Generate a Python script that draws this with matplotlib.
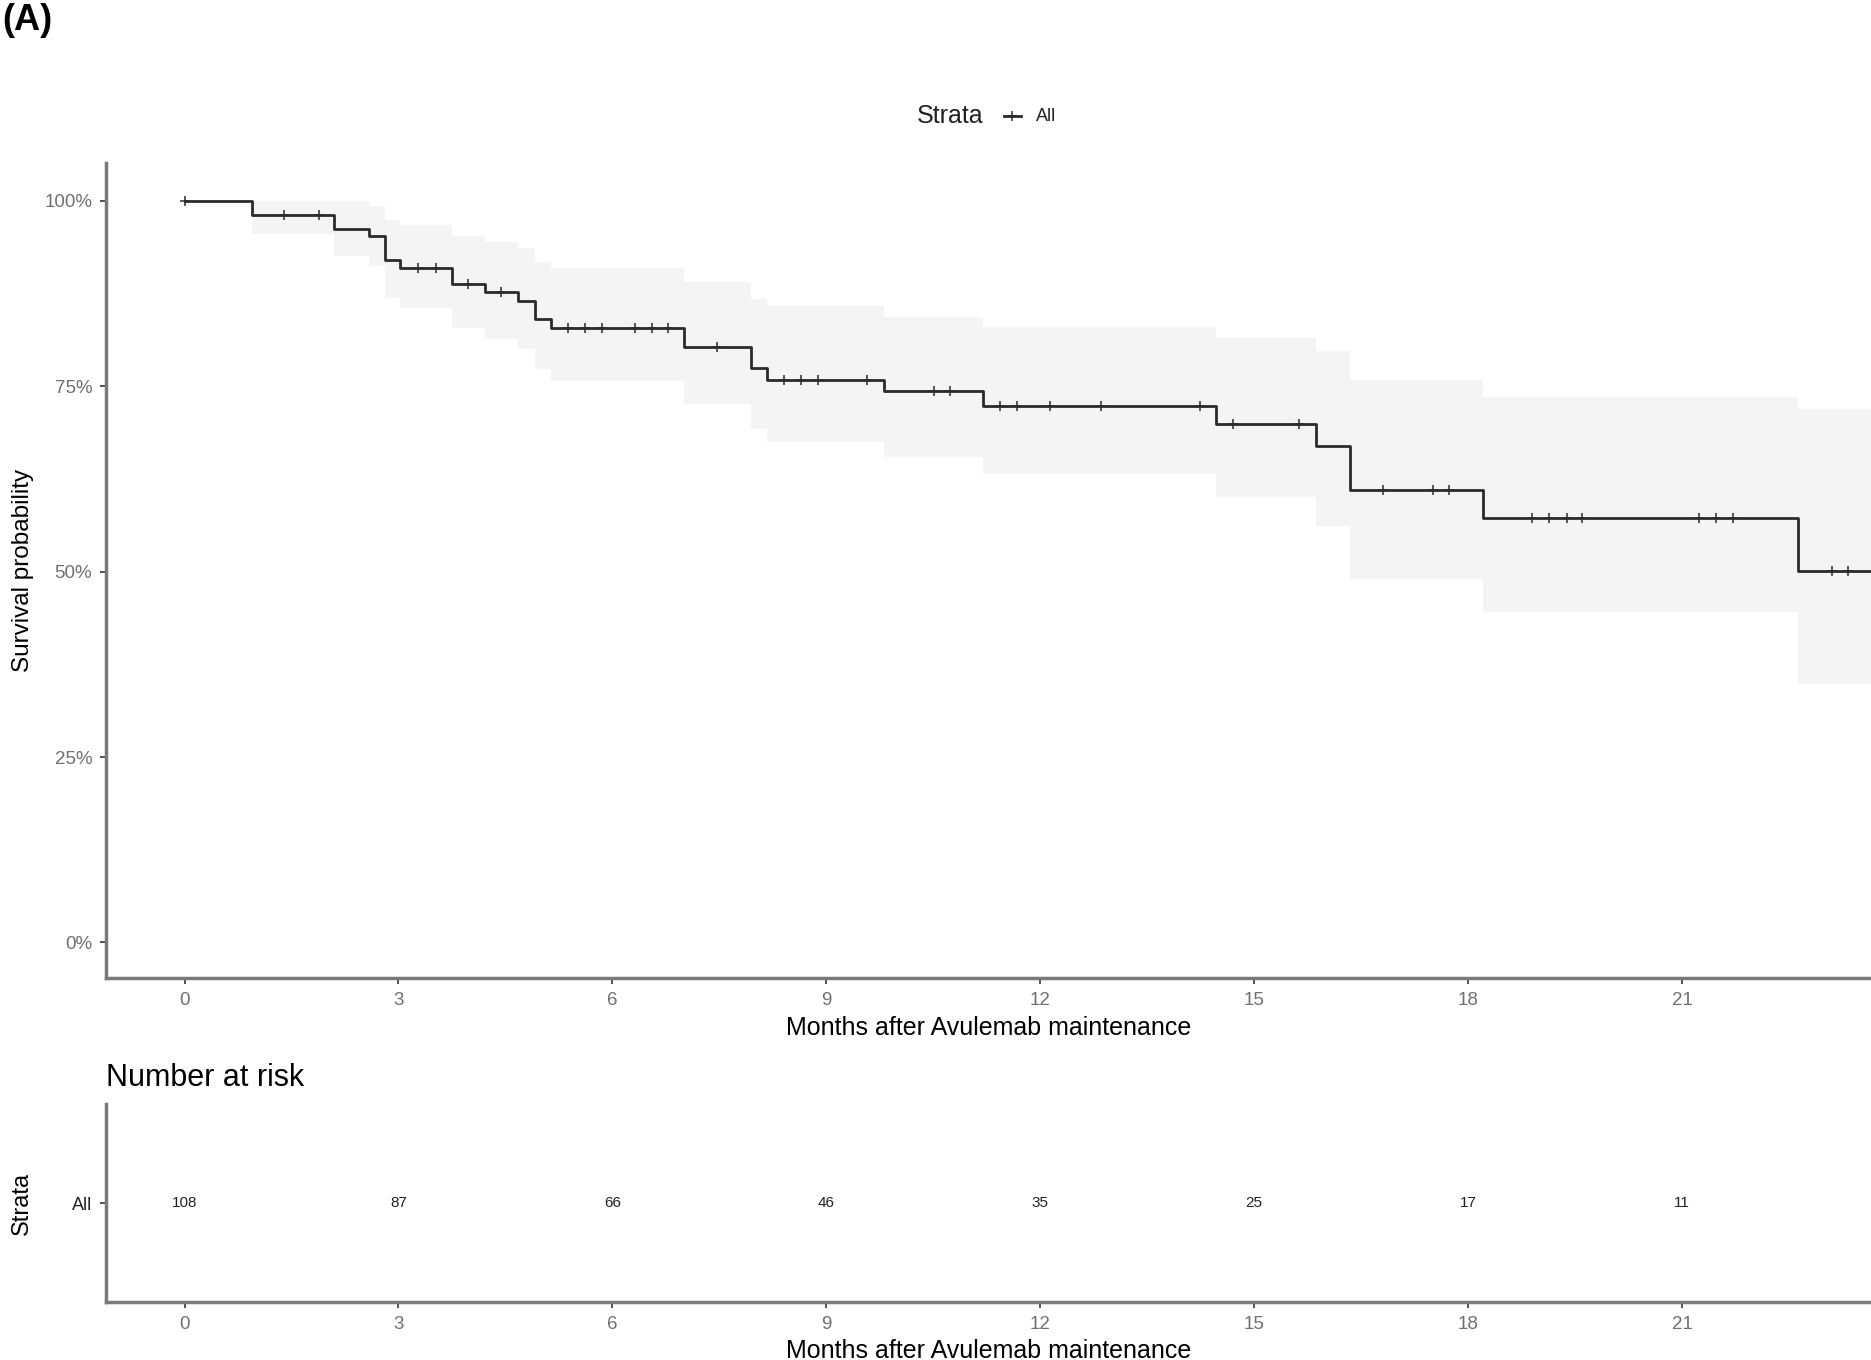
import numpy as np
import matplotlib.pyplot as plt
from matplotlib.lines import Line2D

plt.rcParams['font.family'] = ['Liberation Sans', 'DejaVu Sans']

# Kaplan-Meier steps (months, survival %)
step_times = [0, 0.95, 2.10, 2.58, 2.81, 3.02, 3.75, 4.21, 4.68, 4.91, 5.14,
              7.00, 7.95, 8.17, 9.81, 11.2, 14.47, 15.87, 16.34, 18.21, 22.63]
surv = [100, 98.1, 96.2, 95.3, 92.0, 90.9, 88.8, 87.7, 86.5, 84.1, 82.9,
        80.3, 77.5, 75.9, 74.3, 72.4, 69.95, 66.9, 61.05, 57.3, 50.1]
upper = [100, 100, 100, 99.3, 97.4, 96.7, 95.3, 94.4, 93.6, 91.8, 91.0,
         89.0, 86.8, 85.8, 84.4, 83.0, 81.5, 79.7, 75.8, 73.5, 72.0]
lower = [100, 95.5, 92.6, 91.2, 86.9, 85.5, 82.8, 81.4, 80.0, 77.3, 75.7,
         72.6, 69.3, 67.5, 65.4, 63.1, 60.1, 56.2, 49.0, 44.6, 34.9]
censor_times = [0, 1.39, 1.88, 3.27, 3.52, 3.97, 4.44, 5.38, 5.61, 5.85, 6.32,
                6.55, 6.78, 7.47, 8.41, 8.65, 8.88, 9.57, 10.51, 10.73, 11.43,
                11.67, 12.14, 12.85, 14.24, 14.7, 15.63, 16.8, 17.51, 17.73,
                18.9, 19.14, 19.38, 19.6, 21.24, 21.47, 21.71, 23.1, 23.33]
end_time = 23.7

risk_times = [0, 3, 6, 9, 12, 15, 18, 21]
n_at_risk = [108, 87, 66, 46, 35, 25, 17, 11]
y_ticks = [0, 25, 50, 75, 100]

line_col = '#2b2b2b'
spine_col = '#7a7a7a'
tick_col = '#707070'

fig = plt.figure(figsize=(18.71, 13.6), dpi=100)

ax = fig.add_axes([0.0567, 0.2809, 0.9433, 0.5992])
t = step_times + [end_time]
ax.fill_between(t, lower + [lower[-1]], upper + [upper[-1]], step='post',
                color='#f4f4f4', lw=0)
ax.step(t, surv + [surv[-1]], where='post', color=line_col, lw=2.0)
idx = np.searchsorted(step_times, censor_times, side='right') - 1
ax.plot(censor_times, np.array(surv)[idx], ls='none', marker='+', ms=6.5,
        mew=1.1, color=line_col)

ax.set_xlim(-1.1, 23.65)
ax.set_ylim(-4.8, 105.1)
ax.set_xticks(risk_times)
ax.set_yticks(y_ticks)
ax.set_yticklabels([f'{v}%' for v in y_ticks])
ax.set_xlabel('Months after Avulemab maintenance', fontsize=18, labelpad=5)
ax.set_ylabel('Survival probability', fontsize=17.5, labelpad=7)

ax2 = fig.add_axes([0.0567, 0.0426, 0.9433, 0.1456])
for x, n in zip(risk_times, n_at_risk):
    ax2.text(x, 1, str(n), ha='center', va='center', fontsize=11, color='#222222')
ax2.set_xlim(-1.1, 23.65)
ax2.set_ylim(0.5, 1.5)
ax2.set_xticks(risk_times)
ax2.set_yticks([1])
ax2.set_yticklabels(['All'])
ax2.set_xlabel('Months after Avulemab maintenance', fontsize=18, labelpad=4)
ax2.set_ylabel('Strata', fontsize=17, labelpad=28)
ax2.set_title('Number at risk', loc='left', fontsize=22, pad=13)

for a in [ax, ax2]:
    a.spines['top'].set_visible(False)
    a.spines['right'].set_visible(False)
    for s in ['left', 'bottom']:
        a.spines[s].set_color(spine_col)
        a.spines[s].set_linewidth(2.5)
    a.tick_params(length=4, width=1.2, color='#333333', labelcolor=tick_col,
                  labelsize=13.5, pad=6)
ax2.tick_params(axis='y', labelcolor='#222222', labelsize=13)

# legend at top
fig.text(0.490, 0.9147, 'Strata', fontsize=18, va='center', ha='left', color='#222222')
fig.add_artist(Line2D([0.5365, 0.5455], [0.9147, 0.9147], transform=fig.transFigure,
                      color=line_col, lw=2.0))
fig.add_artist(Line2D([0.541], [0.9147], transform=fig.transFigure, marker='+',
                      ms=6.5, mew=1.1, color=line_col))
fig.text(0.5535, 0.9147, 'All', fontsize=13, va='center', ha='left', color='#222222')

fig.text(0.001, 0.998, '(A)', fontsize=26, fontweight='bold', va='top', ha='left')

fig.savefig('out.png', dpi=100)
